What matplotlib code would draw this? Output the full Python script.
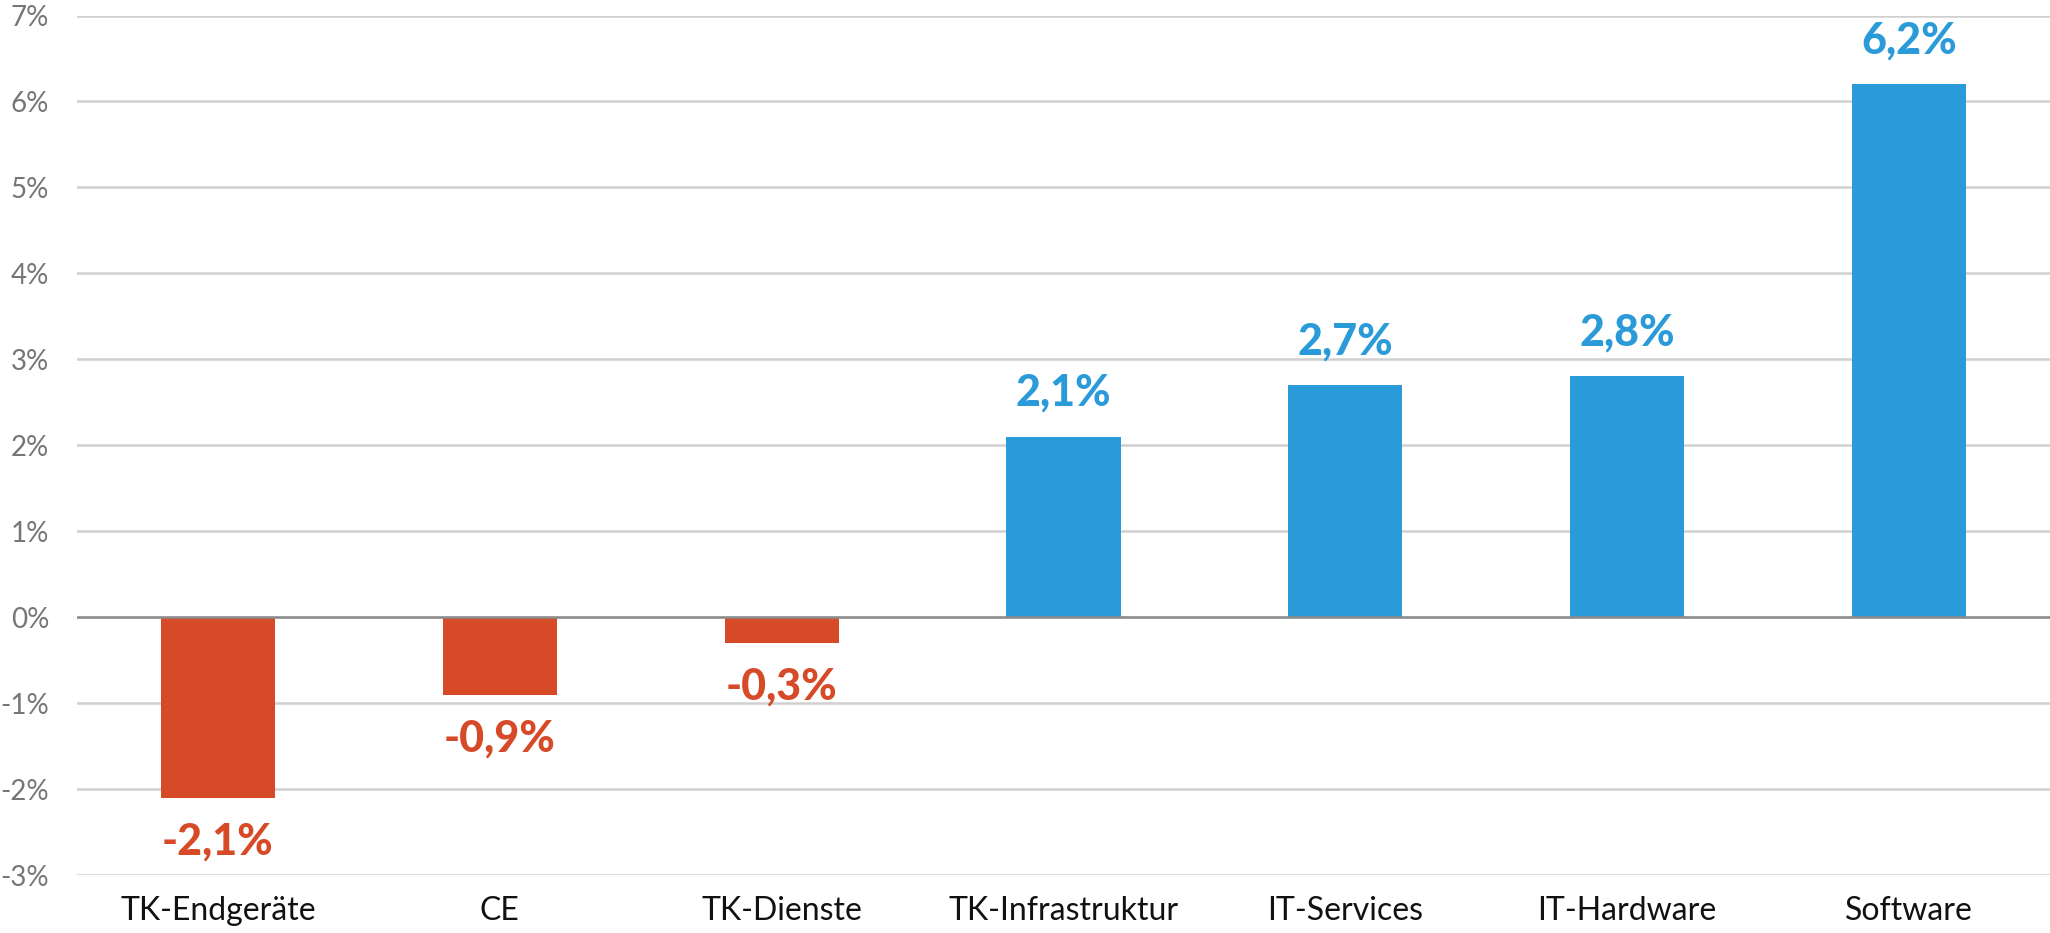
import matplotlib
matplotlib.use("Agg")
import matplotlib.pyplot as plt

categories = ["TK-Endgeräte", "CE", "TK-Dienste", "TK-Infrastruktur", "IT-Services", "IT-Hardware", "Software"]
values = [-2.1, -0.9, -0.3, 2.1, 2.7, 2.8, 6.2]
yticks = [-3, -2, -1, 0, 1, 2, 3, 4, 5, 6, 7]

red = "#D64A28"
blue = "#2A9BD8"

plt.rcParams['font.family'] = ['Lato', 'DejaVu Sans']

fig = plt.figure(figsize=(20.5, 9.33), dpi=100)
ax = fig.add_axes([77 / 2050, 58 / 933, 1 - 77 / 2050, 859.5 / 933])

colors = [red if v < 0 else blue for v in values]
x = list(range(len(categories)))
ax.bar(x, values, width=0.405, color=colors, zorder=2)

# value labels
for xi, v, c in zip(x, values, colors):
    label = ("%.1f%%" % v).replace(".", ",")
    if v < 0:
        ax.annotate(label, (xi, v), xytext=(0, -17), textcoords="offset points",
                    ha="center", va="top", fontsize=31, fontweight="black", color=c)
    else:
        ax.annotate(label, (xi, v), xytext=(0, 17), textcoords="offset points",
                    ha="center", va="bottom", fontsize=31, fontweight="black", color=c)

ax.set_xlim(-0.5, len(categories) - 0.5)
ax.set_ylim(-3, 7)
ax.set_yticks(yticks)
ax.set_yticklabels(["%d%%" % t for t in yticks])
ax.set_xticks(x)
ax.set_xticklabels(categories)

ax.yaxis.grid(True, color="#d0d0d0", linewidth=1.8, zorder=0)
ax.set_axisbelow(True)
ax.axhline(0, color="#8c8c8c", linewidth=1.8, zorder=3)

for s in ax.spines.values():
    s.set_visible(False)
ax.tick_params(axis="y", length=0, pad=20, labelsize=20, labelcolor="#767676")
ax.tick_params(axis="x", length=0, pad=15, labelsize=23, labelcolor="#111111")

fig.savefig("out.png", dpi=100)
